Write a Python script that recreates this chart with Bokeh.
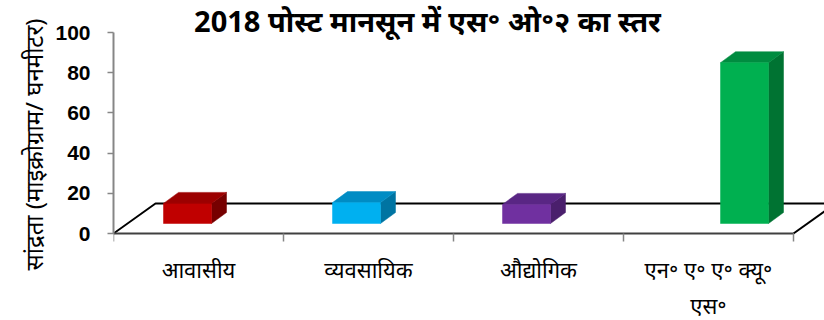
from bokeh.plotting import figure
from bokeh.models import FixedTicker, Label, Range1d, Title
from bokeh.embed import file_html
from bokeh.resources import INLINE

# ---------------- data ----------------
title_text = "2018 पोस्ट मानसून में एस॰ ओ॰२ का स्तर"
y_label = "सांद्रता (माइक्रोग्राम/ घनमीटर)"
categories = ["आवासीय", "व्यवसायिक", "औद्योगिक", "एन॰ ए॰ ए॰ क्यू॰\nएस॰"]
so2_values = [10.0, 10.4, 9.5, 80.0]
y_ticks = [0, 20, 40, 60, 80, 100]

# ---------------- style ----------------
front_colors = ["#C00000", "#00B0F0", "#7030A0", "#00B050"]
top_colors = ["#9C0000", "#008CC4", "#592684", "#008C40"]
side_colors = ["#760000", "#0074A2", "#4A1F6C", "#007332"]
bar_shift_px = [-11, -12, -12, 36]   # horizontal placement tweak of each 3D bar

W, H = 824, 320
frame_left, axis_top, axis_bottom = 113, 32, 233
cat_px = 170.0                       # pixels per category slot
n = len(categories)
x_end = (W - frame_left) / cat_px
y_max = 100.0
px_per_y = (axis_bottom - axis_top) / y_max
y_end = axis_bottom / px_per_y               # frame reaches the top of the canvas
y_start = -(H - axis_bottom) / px_per_y      # ... and the bottom of the canvas

def dx(px):
    return px / cat_px

def dy(px):
    return px / px_per_y

p = figure(width=W, height=H, output_backend="svg", toolbar_location=None,
           x_range=Range1d(0, x_end), y_range=Range1d(y_start, y_end),
           min_border_left=frame_left, min_border_right=0,
           min_border_top=0, min_border_bottom=0)
p.outline_line_color = None
p.grid.grid_line_color = None
p.background_fill_color = "white"
p.border_fill_color = "white"

# floor (3D base)
floor_back = dy(30)
floor_dx = dx(42)
p.line([0, floor_dx, x_end], [0, floor_back, floor_back], line_color="black", line_width=2)
p.line([n, n + floor_dx], [0, floor_back], line_color="black", line_width=2)

# 3D bars
bar_w = dx(48)
base = dy(10)
ddx, ddy = dx(15), dy(11)
L, R, B, T = [], [], [], []
top_xs, top_ys, side_xs, side_ys = [], [], [], []
for i, v in enumerate(so2_values):
    c = i + 0.5 + dx(bar_shift_px[i])
    l, r = c - bar_w / 2, c + bar_w / 2
    b, t = base, base + v
    L.append(l); R.append(r); B.append(b); T.append(t)
    top_xs.append([l, r, r + ddx, l + ddx])
    top_ys.append([t, t, t + ddy, t + ddy])
    side_xs.append([r, r + ddx, r + ddx, r])
    side_ys.append([b, b + ddy, t + ddy, t])

p.patches(side_xs, side_ys, fill_color=side_colors, line_color=side_colors, line_width=0.5)
p.patches(top_xs, top_ys, fill_color=top_colors, line_color=top_colors, line_width=0.5)
p.quad(left=L, right=R, bottom=B, top=T, fill_color=front_colors,
       line_color=front_colors, line_width=0.5)

# x axis, pinned at value 0
xa = p.xaxis[0]
xa.fixed_location = 0
xa.ticker = FixedTicker(ticks=[i + 0.5 for i in range(n)], minor_ticks=list(range(n + 1)))
xa.major_label_overrides = {i + 0.5: categories[i] for i in range(n)}
xa.bounds = (0, n)
xa.axis_line_color = "#404040"
xa.axis_line_width = 2
xa.major_tick_line_color = None
xa.minor_tick_line_color = "#868686"
xa.minor_tick_line_width = 1.5
xa.minor_tick_out = 8
xa.minor_tick_in = 0
xa.major_label_standoff = 12
xa.major_label_text_font = "Noto Sans"
xa.major_label_text_font_size = "22px"
xa.major_label_text_color = "black"

# y axis
ya = p.yaxis[0]
ya.ticker = FixedTicker(ticks=y_ticks)
ya.bounds = (0, y_max)
ya.axis_line_color = "#868686"
ya.axis_line_width = 2
ya.major_tick_line_color = "#868686"
ya.major_tick_line_width = 1.5
ya.major_tick_out = 6
ya.major_tick_in = 0
ya.minor_tick_line_color = None
ya.major_label_standoff = 17
ya.major_label_text_font = "Liberation Sans"
ya.major_label_text_font_style = "bold"
ya.major_label_text_font_size = "21px"
ya.major_label_text_color = "black"

# y axis title, started a little below the axis foot like the reference
ytitle = Title(text=y_label, align="left", offset=50, vertical_align="middle",
               text_font="Noto Sans", text_font_style="normal",
               text_font_size="24px", text_color="black", standoff=4)
p.add_layout(ytitle, "left")

# chart title
title = Label(x=427 - frame_left, y=(axis_bottom - 20) / px_per_y,
              x_units="screen", y_units="data", text=title_text,
              text_align="center", text_baseline="middle",
              text_font="Noto Sans", text_font_style="bold",
              text_font_size="29px", text_color="black")
p.add_layout(title)

open("out.html", "w").write(file_html(p, INLINE))
